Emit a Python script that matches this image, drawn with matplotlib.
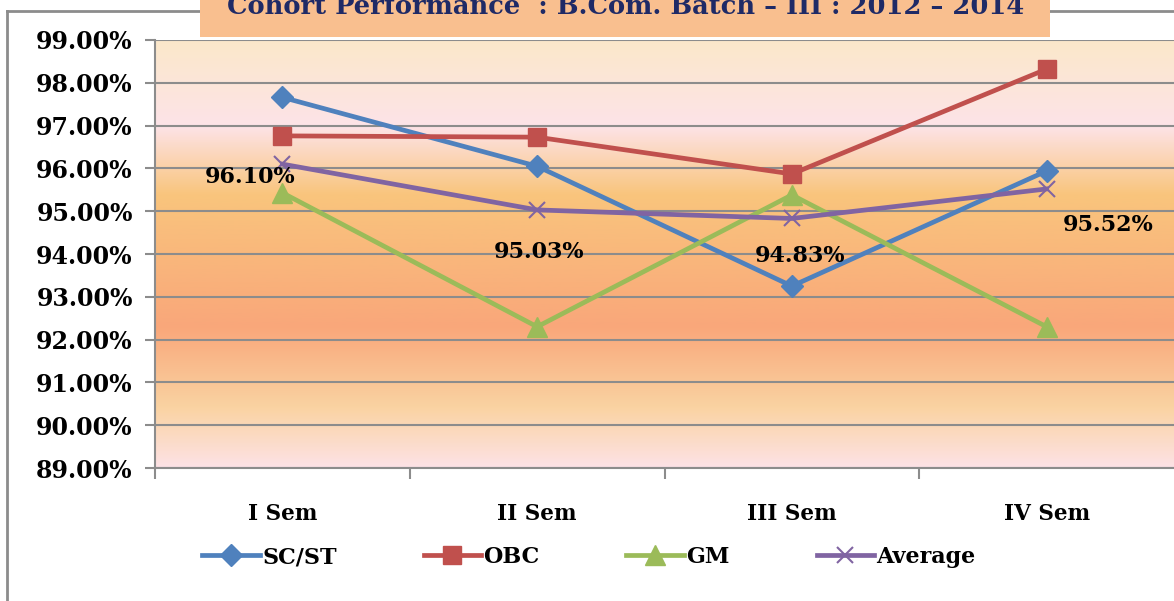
import numpy as np
import matplotlib
matplotlib.use("Agg")
import matplotlib.pyplot as plt
from matplotlib.colors import LinearSegmentedColormap
from matplotlib.patches import Rectangle
from matplotlib.lines import Line2D
from matplotlib.ticker import FuncFormatter, FixedLocator

# data
semesters = ["I Sem", "II Sem", "III Sem", "IV Sem"]
sc_st = [97.66, 96.05, 93.25, 95.94]
obc = [96.76, 96.73, 95.87, 98.32]
gm = [95.43, 92.30, 95.38, 92.30]
average = [96.10, 95.03, 94.83, 95.52]
avg_labels = ["96.10%", "95.03%", "94.83%", "95.52%"]
title = "Cohort Performance  : B.Com. Batch \u2013 III : 2012 \u2013 2014"

W, H = 1174, 601
fig = plt.figure(figsize=(W / 100, H / 100), dpi=100)
fig.patch.set_facecolor("white")

def fx(px):
    return px / W

def fy(py):
    return 1 - py / H

# outer chart frame (partly out of the picture)
fig.add_artist(Line2D([fx(7), fx(7)], [fy(11), 0], color="#8C8C8C", lw=2))
fig.add_artist(Line2D([fx(7), 1], [fy(11), fy(11)], color="#8C8C8C", lw=2))

ax = fig.add_axes([fx(155), fy(468), 1 - fx(155), fy(40) - fy(468)])

# gradient background
stops = [(0.0, "#FBE8CA"), (0.2, "#FDE3E8"), (0.36, "#F9C57D"),
         (0.67, "#F9A77A"), (0.86, "#FAD3A2"), (1.0, "#FDE2E6")]
cmap = LinearSegmentedColormap.from_list("bg", stops)
grad = np.linspace(0, 1, 256).reshape(-1, 1)
ax.imshow(grad, cmap=cmap, aspect="auto", extent=[-0.5, 3.5, 89, 99],
          origin="upper", zorder=0)

x = np.arange(len(semesters))
lw = 3.4
ax.plot(x, sc_st, color="#4F81BD", lw=lw, marker="D", ms=11, zorder=3, label="SC/ST")
ax.plot(x, obc, color="#C0504D", lw=lw, marker="s", ms=13, zorder=3, label="OBC")
ax.plot(x, gm, color="#9BBB59", lw=lw, marker="^", ms=14, zorder=3, label="GM")
ax.plot(x, average, color="#8064A2", lw=lw, marker="x", ms=12, mew=1.5, zorder=3,
        label="Average")

offsets = [(-23, -9), (1, -30), (6, -27), (44, -26)]
for xi, yi, lab, off in zip(x, average, avg_labels, offsets):
    ax.annotate(lab, (xi, yi), xytext=off, textcoords="offset points",
                ha="center", va="center", fontsize=16, fontweight="bold",
                family="DejaVu Serif", color="black", zorder=5)

ax.set_xlim(-0.5, 3.5)
ax.set_ylim(89, 99)
ax.yaxis.set_major_locator(FixedLocator(np.arange(89, 99.5, 1)))
ax.yaxis.set_major_formatter(FuncFormatter(lambda v, p: f"{v:.2f}%"))
ax.grid(axis="y", color="#8C8C8C", lw=1.5, zorder=1)
ax.set_axisbelow(False)

ax.set_xticks(x)
ax.set_xticklabels(semesters)
ax.xaxis.set_minor_locator(FixedLocator([-0.5, 0.5, 1.5, 2.5]))
ax.tick_params(axis="x", which="major", length=0, pad=25)
ax.tick_params(axis="x", which="minor", length=8, width=1.5, color="#8C8C8C")
ax.tick_params(axis="y", length=7, width=1.5, color="#8C8C8C", pad=9)
for lab in ax.get_xticklabels():
    lab.set_fontfamily("DejaVu Serif")
    lab.set_fontweight("bold")
    lab.set_fontsize(15.5)
for lab in ax.get_yticklabels():
    lab.set_fontfamily("DejaVu Serif")
    lab.set_fontweight("bold")
    lab.set_fontsize(17)

for s in ["top", "right"]:
    ax.spines[s].set_visible(False)
for s in ["left", "bottom"]:
    ax.spines[s].set_color("#8C8C8C")
    ax.spines[s].set_linewidth(1.5)

leg = fig.legend(loc="center", bbox_to_anchor=(fx(589), fy(557)), ncol=4,
                 frameon=False, handlelength=2.6, columnspacing=3.9,
                 handletextpad=0.1,
                 prop={"family": "DejaVu Serif", "weight": "bold", "size": 16})

# title box
fig.add_artist(Rectangle((fx(200), fy(37)), fx(1050) - fx(200), fy(0) - fy(37),
                         transform=fig.transFigure, facecolor="#F9BF8F",
                         edgecolor="none", zorder=2))
fig.text(fx(626), fy(14), title, ha="center", va="baseline", fontsize=18.5,
         fontweight="bold", family="DejaVu Serif", color="#1F2A66", zorder=3)

fig.savefig("out.png", dpi=100)
